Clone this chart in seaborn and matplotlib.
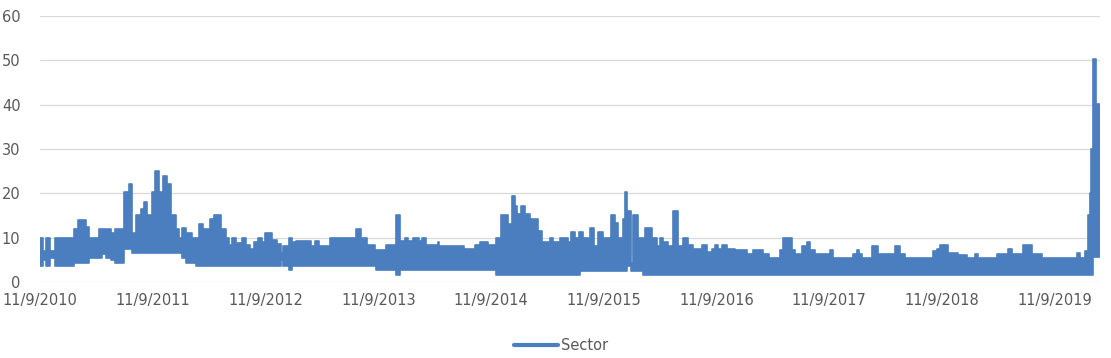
import matplotlib
matplotlib.use("Agg")
import matplotlib.pyplot as plt
from matplotlib.lines import Line2D
import numpy as np
import pandas as pd
import seaborn as sns

# ---- data: step segments of the daily series' envelope ----
start_date = "2010-11-09"
# days since start at which each segment begins
seg_day = [0, 10, 19, 32, 49, 110, 123, 149, 159, 191, 201, 214, 230, 243, 272, 289,
           298, 311, 328, 337, 347, 363, 373, 386, 399, 412, 425, 441, 451, 461, 474,
           493, 506, 516, 529, 551, 564, 587, 603, 613, 623, 636, 655, 668, 681, 694,
           707, 720, 730, 753, 769, 782, 788, 808, 817, 830, 879, 892, 905, 938, 1025,
           1041, 1061, 1084, 1090, 1122, 1155, 1165, 1181, 1191, 1207, 1229, 1239,
           1252, 1288, 1294, 1375, 1408, 1424, 1450, 1479, 1495, 1515, 1528, 1538,
           1547, 1560, 1570, 1586, 1612, 1625, 1651, 1661, 1684, 1710, 1719, 1732,
           1745, 1749, 1758, 1781, 1794, 1807, 1823, 1849, 1862, 1872, 1888, 1894,
           1901, 1914, 1920, 1937, 1953, 1959, 1982, 1998, 2008, 2018, 2034, 2050,
           2066, 2083, 2099, 2115, 2144, 2160, 2177, 2186, 2196, 2209, 2225, 2251,
           2290, 2310, 2342, 2362, 2397, 2407, 2436, 2446, 2469, 2485, 2495, 2511,
           2560, 2569, 2634, 2647, 2654, 2663, 2696, 2715, 2770, 2787, 2803, 2894,
           2907, 2916, 2942, 2975, 3004, 3030, 3040, 3101, 3137, 3150, 3186, 3215,
           3247, 3361, 3371, 3387, 3397, 3401, 3406, 3411, 3413, 3421]
end_day = 3434
# upper envelope of the series in each segment
seg_high = [10, 7, 10, 7, 10, 12, 14, 12.5, 10, 12, 12, 12, 11, 12, 20.2, 22,
            11, 15, 16.5, 18, 15, 20.2, 25, 20.2, 24, 22, 15, 12, 10, 12.2, 11,
            10, 10, 13, 12, 14.3, 15.2, 12, 10, 8.3, 10, 8.8, 10, 8.3, 7.5, 9,
            10, 9, 11, 9.5, 8.5, 6.5, 8.2, 10, 9, 9.2, 8.2, 9.2, 8.2, 10, 12,
            10, 8.4, 7.3, 7.3, 8.4, 15.2, 9.2, 10, 9.2, 10, 9.2, 10,
            8.4, 9, 8.2, 7.5, 8.4, 9, 8.4, 10, 15.2, 13, 19.3, 17.2,
            15.4, 17.2, 15.4, 14.2, 11.6, 9, 10, 9, 10, 9, 11.2, 10,
            11.2, 11.2, 10, 12.2, 8.2, 11.2, 10, 15.2, 13.3, 10, 14.2, 20.2,
            16.1, 4.2, 15.2, 10, 10, 12.2, 10, 8.2, 10, 9, 8.2, 16.1,
            8.2, 10, 8.4, 7.5, 8.4, 6.7, 7.5, 8.4, 7.5, 8.4, 7.5, 7.3,
            6.4, 7.3, 6.4, 5.4, 7.3, 10, 7.3, 6.4, 8.2, 9, 7.3, 6.4,
            7.3, 5.4, 6.4, 7.3, 6.4, 5.4, 8.2, 6.4, 8.2, 6.4, 5.5, 7.1,
            7.5, 8.4, 6.5, 6.2, 5.5, 6.4, 5.5, 6.4, 7.5, 6.4, 8.4, 6.4,
            5.5, 6.5, 5.5, 7, 15, 20, 30, 42, 50.2, 40.1]
# lower envelope of the series in each segment
seg_low = [3.5, 5, 3.5, 5.5, 3.5, 4.3, 4.3, 4.3, 5.5, 5.5, 6.3, 5.5, 5, 4.3, 7.4, 7.4,
           6.5, 6.5, 6.5, 6.5, 6.5, 6.5, 6.5, 6.5, 6.5, 6.5, 6.5, 6.5, 6.5, 5.5, 4.3,
           4.3, 3.5, 3.5, 3.5, 3.5, 3.5, 3.5, 3.5, 3.5, 3.5, 3.5, 3.5, 3.5, 3.5, 3.5,
           3.5, 3.5, 3.5, 3.5, 3.5, 5, 3.5, 2.6, 3.5, 3.5, 3.5, 3.5, 3.5, 3.5, 3.5,
           3.5, 3.5, 3.5, 2.6, 2.6, 1.5, 2.6, 2.6, 2.6, 2.6, 2.6, 2.6,
           2.6, 2.6, 2.6, 2.6, 2.6, 2.6, 2.6, 1.5, 1.5, 1.5, 1.5, 1.5,
           1.5, 1.5, 1.5, 1.5, 1.5, 1.5, 1.5, 1.5, 1.5, 1.5, 1.5, 1.5,
           1.5, 2.5, 2.5, 2.5, 2.5, 2.5, 2.5, 2.5, 2.5, 2.5, 2.5, 2.5,
           3.5, 2.5, 2.5, 2.5, 1.5, 1.5, 1.5, 1.5, 1.5, 1.5, 1.5, 1.5,
           1.5, 1.5, 1.5, 1.5, 1.5, 1.5, 1.5, 1.5, 1.5, 1.5, 1.5, 1.5,
           1.5, 1.5, 1.5, 1.5, 1.5, 1.5, 1.5, 1.5, 1.5, 1.5, 1.5, 1.5,
           1.5, 1.5, 1.5, 1.5, 1.5, 1.5, 1.5, 1.5, 1.5, 1.5, 1.5, 1.5,
           1.5, 1.5, 1.5, 1.5, 1.5, 1.5, 1.5, 1.5, 1.5, 1.5, 1.5, 1.5,
           1.5, 1.5, 1.5, 1.5, 1.5, 1.5, 1.5, 1.5, 5.6, 5.6]
series_name = "Sector"
y_ticks = [0, 10, 20, 30, 40, 50, 60]
tick_years = list(range(2010, 2020))

# ---- build frame ----
t0 = pd.Timestamp(start_date)
days = seg_day + [end_day]
hi = seg_high + [seg_high[-1]]
lo = seg_low + [seg_low[-1]]
df = pd.DataFrame({"date": t0 + pd.to_timedelta(days, unit="D"), "high": hi, "low": lo})

sns.set_theme(style="white")
plt.rcParams["font.family"] = ["DejaVu Sans"]
color = "#4A7EBF"
text_col = "#595959"

fig = plt.figure(figsize=(11.11, 3.58), dpi=100)
ax = fig.add_axes([0.036, 0.2123, 0.954, 0.7430])

ax.fill_between(df["date"], df["low"], df["high"], step="post", color=color, lw=0)
sns.lineplot(data=df, x="date", y="high", ax=ax, color=color, lw=1.2,
             drawstyle="steps-post", estimator=None, sort=False)
sns.lineplot(data=df, x="date", y="low", ax=ax, color=color, lw=1.2,
             drawstyle="steps-post", estimator=None, sort=False)

ax.set_ylim(0, 60)
ax.set_yticks(y_ticks)
ax.set_xlim(df["date"].iloc[0], df["date"].iloc[-1])
ticks = [pd.Timestamp(f"{y}-11-09") for y in tick_years]
ax.set_xticks(ticks)
ax.set_xticklabels([f"{t.month}/{t.day}/{t.year}" for t in ticks])
ax.grid(axis="y", color="#D9D9D9", lw=0.9)
ax.set_axisbelow(True)
for s in ax.spines.values():
    s.set_visible(False)
ax.tick_params(axis="both", length=0, labelsize=10.5, colors=text_col)
ax.tick_params(axis="x", pad=8)
ax.tick_params(axis="y", pad=14)
ax.set_xlabel("")
ax.set_ylabel("")

handle = Line2D([0], [0], color=color, lw=3)
fig.legend([handle], [series_name], loc="center", bbox_to_anchor=(0.505, 0.035),
           frameon=False, fontsize=10.5, labelcolor=text_col, handlelength=3.0,
           handletextpad=0.2)

fig.savefig("out.png", dpi=100)
